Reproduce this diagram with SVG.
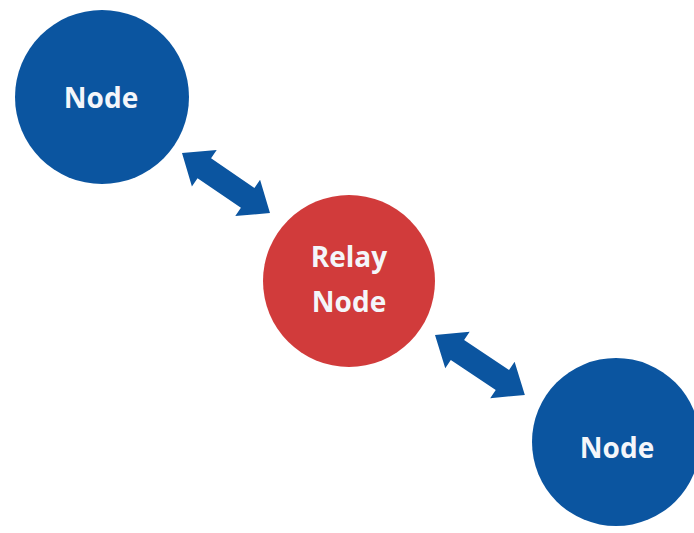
<svg xmlns="http://www.w3.org/2000/svg" width="694" height="533" viewBox="0 0 694 533">
<style>
.blue{fill:#0b55a0}
.red{fill:#d13b3b}
.arrow{fill:#0b55a0}
.lbl{font-family:"Open Sans","DejaVu Sans",sans-serif;font-weight:bold;font-size:28px;fill:#f4f6fa;text-anchor:middle}
</style>
<rect width="694" height="533" fill="#ffffff"/>
<g id="connectors">
<path class="arrow" transform="translate(182,153) rotate(34.3)" d="M0,0 L27,-22 L27,-12 L79.5,-12 L79.5,-22 L106.5,0 L79.5,22 L79.5,12 L27,12 L27,22 Z"/>
<path class="arrow" transform="translate(435,335) rotate(33.7)" d="M0,0 L27,-22 L27,-12 L81,-12 L81,-22 L108,0 L81,22 L81,12 L27,12 L27,22 Z"/>
</g>
<g id="node-top">
<circle class="blue" cx="102" cy="97" r="87"/>
<text class="lbl" x="101" y="108">Node</text>
</g>
<g id="node-relay">
<circle class="red" cx="349" cy="281" r="86"/>
<text class="lbl" x="349" y="267">Relay</text>
<text class="lbl" x="349" y="312">Node</text>
</g>
<g id="node-bottom">
<circle class="blue" cx="616" cy="442" r="84"/>
<text class="lbl" x="617" y="458">Node</text>
</g>
</svg>
